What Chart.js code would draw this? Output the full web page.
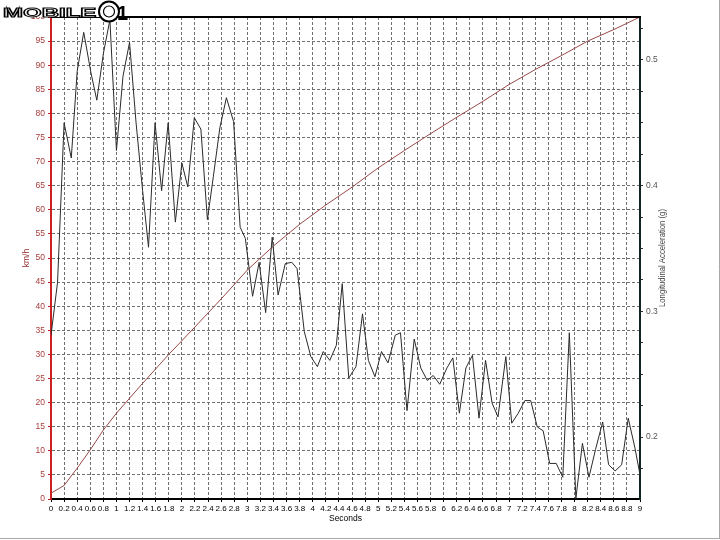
<!DOCTYPE html>
<html>
<head>
<meta charset="utf-8">
<script src="https://cdn.jsdelivr.net/npm/chart.js@4.4.1/dist/chart.umd.min.js"></script>
<style>
html,body{margin:0;padding:0;background:#fff;}
#wrap{width:720px;height:540px;position:relative;}
canvas{display:block;}
</style>
</head>
<body>
<div id="wrap"><canvas id="c" width="720" height="540"></canvas></div>
<script>
// ---- data ----
const speedTimes = [0, 0.2, 0.4, 0.6, 0.8, 1.0, 1.4, 1.8, 2.2, 2.6, 3.0, 3.4, 3.8, 4.2, 4.6, 5.0, 5.4, 5.8, 6.2, 6.6, 7.0, 7.4, 7.8, 8.2, 8.6, 9.0];
const speedKmh = [1.2, 2.8, 6.4, 10.2, 14.3, 17.8, 24, 30, 35.7, 41.5, 47.5, 52.5, 57, 61, 64.7, 68.7, 72.3, 75.8, 79.2, 82.5, 86, 89.1, 92, 95, 97.4, 100];

const accelTimes = [0.00, 0.10, 0.20, 0.31, 0.40, 0.50, 0.61, 0.70, 0.80, 0.90,
  1.00, 1.10, 1.20, 1.30, 1.40, 1.49, 1.59, 1.69, 1.79, 1.90,
  2.00, 2.09, 2.19, 2.29, 2.39, 2.48, 2.58, 2.68, 2.79, 2.89,
  2.97, 3.08, 3.18, 3.28, 3.38, 3.47, 3.58, 3.68, 3.76, 3.87,
  3.97, 4.07, 4.16, 4.26, 4.36, 4.45, 4.55, 4.66, 4.76, 4.85,
  4.95, 5.05, 5.15, 5.26, 5.34, 5.44, 5.55, 5.65, 5.75, 5.84,
  5.94, 6.05, 6.14, 6.24, 6.34, 6.44, 6.54, 6.64, 6.74, 6.83,
  6.95, 7.04, 7.14, 7.24, 7.33, 7.43, 7.52, 7.62, 7.72, 7.82,
  7.92, 8.02, 8.12, 8.22, 8.32, 8.43, 8.52, 8.62, 8.72, 8.82,
  8.92, 9.00];
const accelG = [0.281, 0.323, 0.450, 0.422, 0.491, 0.522, 0.490, 0.468, 0.505, 0.532,
  0.428, 0.487, 0.514, 0.450, 0.396, 0.351, 0.450, 0.396, 0.450, 0.371,
  0.418, 0.399, 0.454, 0.445, 0.373, 0.407, 0.446, 0.470, 0.451, 0.367,
  0.358, 0.312, 0.339, 0.299, 0.359, 0.313, 0.338, 0.339, 0.334, 0.284,
  0.264, 0.256, 0.268, 0.261, 0.273, 0.322, 0.247, 0.256, 0.298, 0.261,
  0.248, 0.268, 0.259, 0.281, 0.283, 0.221, 0.278, 0.255, 0.245, 0.249,
  0.242, 0.255, 0.263, 0.219, 0.255, 0.265, 0.215, 0.261, 0.227, 0.216,
  0.264, 0.211, 0.219, 0.229, 0.229, 0.208, 0.205, 0.179, 0.179, 0.168,
  0.283, 0.151, 0.195, 0.168, 0.190, 0.212, 0.178, 0.173, 0.178, 0.215,
  0.192, 0.170];

// ---- tick labels ----
const timeTickValues = [0, 0.2, 0.4, 0.6, 0.8, 1, 1.2, 1.4, 1.6, 1.8, 2, 2.2, 2.4, 2.6, 2.8, 3, 3.2, 3.4, 3.6, 3.8,
  4, 4.2, 4.4, 4.6, 4.8, 5, 5.2, 5.4, 5.6, 5.8, 6, 6.2, 6.4, 6.6, 6.8, 7, 7.2, 7.4, 7.6, 7.8,
  8, 8.2, 8.4, 8.6, 8.8, 9];
const speedTickValues = [0, 5, 10, 15, 20, 25, 30, 35, 40, 45, 50, 55, 60, 65, 70, 75, 80, 85, 90, 95, 100];
const accelTickValues = [0.175, 0.2, 0.225, 0.25, 0.275, 0.3, 0.325, 0.35, 0.375, 0.4, 0.425, 0.45, 0.475, 0.5, 0.525];
const accelLabelValues = [0.2, 0.3, 0.4, 0.5];

const xTitle = 'Seconds';
const yLeftTitle = 'km/h';
const yRightTitle = 'Longitudinal Acceleration (g)';

const FONT = "'Liberation Sans', Arial, sans-serif";

const decor = {
  id: 'decor',
  afterDraw(chart) {
    const ctx = chart.ctx;
    const a = chart.chartArea;
    const midY = (a.top + a.bottom) / 2;
    ctx.save();
    // top frame line
    ctx.strokeStyle = '#000';
    ctx.lineWidth = 2;
    ctx.beginPath();
    ctx.moveTo(a.left, a.top);
    ctx.lineTo(a.right + 1, a.top);
    ctx.stroke();

    // axis titles
    ctx.font = '8.5px ' + FONT;
    ctx.textAlign = 'center';
    ctx.textBaseline = 'middle';
    ctx.fillStyle = '#000';
    ctx.fillText(xTitle, (a.left + a.right) / 2, 519);

    ctx.save();
    ctx.translate(27, midY);
    ctx.rotate(-Math.PI / 2);
    ctx.fillStyle = '#8e2a2a';
    ctx.fillText(yLeftTitle, 0, 0);
    ctx.restore();

    ctx.save();
    ctx.translate(663, midY);
    ctx.rotate(-Math.PI / 2);
    ctx.fillStyle = '#444';
    const w = ctx.measureText(yRightTitle).width;
    if (w > 98) ctx.scale(98 / w, 1);
    ctx.fillText(yRightTitle, 0, 0);
    ctx.restore();

    // watermark logo
    ctx.fillStyle = '#fff';
    ctx.fillRect(0, 0, 100, 17);
    ctx.save();
    ctx.translate(3, 17);
    ctx.scale(2.0, 1.0);
    ctx.font = 'bold 12px ' + FONT;
    ctx.textAlign = 'left';
    ctx.textBaseline = 'alphabetic';
    ctx.lineWidth = 0.9;
    ctx.strokeStyle = '#000';
    ctx.fillStyle = '#fff';
    ctx.fillText('MOBILE', 0, 0);
    ctx.strokeText('MOBILE', 0, 0);
    ctx.restore();
    ctx.beginPath();
    ctx.arc(109, 11.5, 10, 0, Math.PI * 2);
    ctx.fillStyle = '#fff';
    ctx.fill();
    ctx.lineWidth = 2;
    ctx.strokeStyle = '#000';
    ctx.stroke();
    ctx.beginPath();
    ctx.arc(109, 11.5, 5.5, 0, Math.PI * 2);
    ctx.lineWidth = 1.2;
    ctx.stroke();
    ctx.font = 'bold 20px ' + FONT;
    ctx.fillStyle = '#000';
    ctx.textAlign = 'left';
    ctx.textBaseline = 'alphabetic';
    ctx.fillText('1', 117, 20);

    // page frame
    ctx.strokeStyle = '#a8a8a8';
    ctx.lineWidth = 1;
    ctx.beginPath();
    ctx.moveTo(719.5, 0);
    ctx.lineTo(719.5, 538.5);
    ctx.moveTo(0, 538.5);
    ctx.lineTo(720, 538.5);
    ctx.stroke();
    ctx.restore();
  }
};

new Chart(document.getElementById('c').getContext('2d'), {
  type: 'line',
  data: {
    datasets: [
      {
        label: yRightTitle,
        data: accelTimes.map((t, i) => ({ x: t, y: accelG[i] })),
        yAxisID: 'yR',
        borderColor: '#2a2a2a',
        borderWidth: 1,
        pointRadius: 0,
        tension: 0,
        fill: false
      },
      {
        label: yLeftTitle,
        data: speedTimes.map((t, i) => ({ x: t, y: speedKmh[i] })),
        yAxisID: 'yL',
        borderColor: '#984848',
        borderWidth: 1,
        pointRadius: 0,
        tension: 0,
        fill: false
      }
    ]
  },
  options: {
    responsive: false,
    animation: false,
    devicePixelRatio: 1,
    layout: { padding: { top: 17, left: 0, right: 0, bottom: 0 } },
    plugins: { legend: { display: false }, tooltip: { enabled: false } },
    scales: {
      x: {
        type: 'linear',
        min: 0,
        max: 9,
        afterBuildTicks: s => { s.ticks = timeTickValues.map(v => ({ value: v })); },
        afterFit: s => { s.height = 41; },
        ticks: {
          autoSkip: false, maxRotation: 0, minRotation: 0, padding: 2,
          color: '#000', font: { family: FONT, size: 8 },
          callback: v => String(Math.round(v * 10) / 10)
        },
        grid: { color: '#707070', lineWidth: 1, tickLength: 3, tickColor: '#000' },
        border: { color: '#000', width: 2, dash: [3, 2] }
      },
      yL: {
        position: 'left',
        min: 0,
        max: 100,
        afterBuildTicks: s => { s.ticks = speedTickValues.map(v => ({ value: v })); },
        afterFit: s => { s.width = 51; },
        ticks: { autoSkip: false, color: '#a63c3c', padding: 3, font: { family: FONT, size: 8.5 } },
        grid: { color: '#707070', lineWidth: 1, tickLength: 3, tickColor: '#c02020' },
        border: { color: '#cc2020', width: 2, dash: [3, 2] }
      },
      yR: {
        position: 'right',
        min: 0.1507,
        max: 0.5342,
        afterBuildTicks: s => { s.ticks = accelTickValues.map(v => ({ value: v })); },
        afterFit: s => { s.width = 80; },
        ticks: {
          autoSkip: false, color: '#555', padding: 3, font: { family: FONT, size: 8.5 },
          callback: v => accelLabelValues.some(a => Math.abs(a - v) < 1e-6) ? v.toFixed(1) : ''
        },
        grid: { drawOnChartArea: false, tickLength: 3, tickColor: '#333' },
        border: { color: '#102424', width: 2 }
      }
    }
  },
  plugins: [decor]
});
</script>
</body>
</html>
